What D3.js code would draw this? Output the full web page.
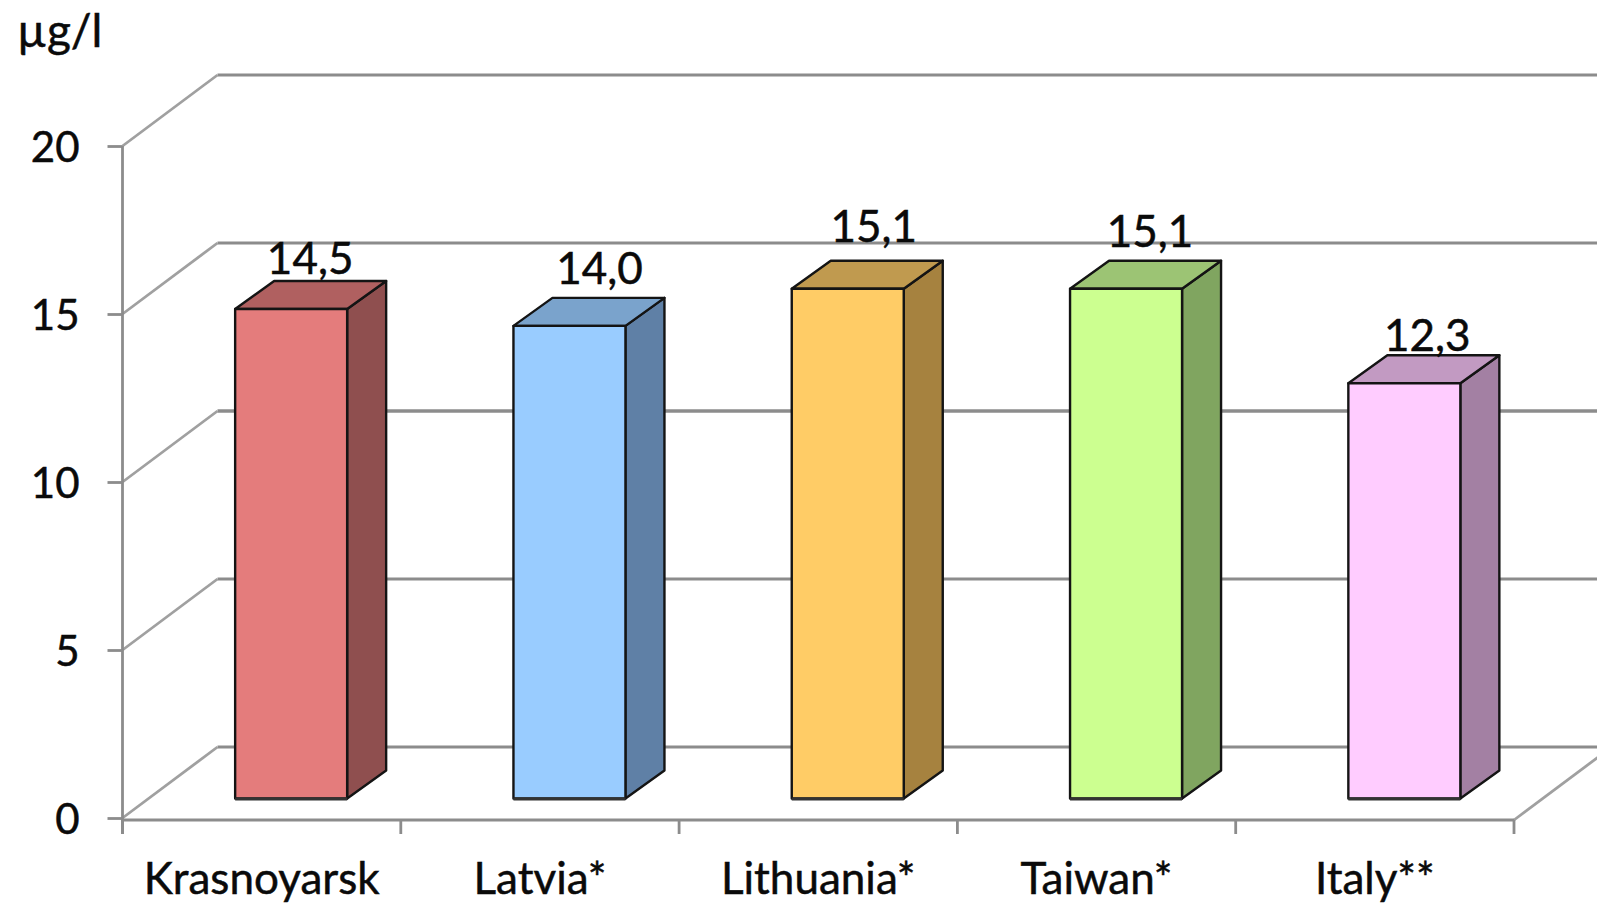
<!DOCTYPE html>
<html>
<head>
<meta charset="utf-8">
<script src="https://cdn.jsdelivr.net/npm/d3@7"></script>
<style>
html,body{margin:0;padding:0;background:#fff;overflow:hidden}
svg{display:block}
text{font-family:Lato,"Open Sans",sans-serif;fill:#0a0a0a;stroke:#0a0a0a;stroke-width:0.5px}
</style>
</head>
<body>
<svg id="chart" width="1597" height="903"></svg>
<script>
const categories = ["Krasnoyarsk", "Latvia*", "Lithuania*", "Taiwan*", "Italy**"];
const values = [14.5, 14.0, 15.1, 15.1, 12.3];
const valueLabels = ["14,5", "14,0", "15,1", "15,1", "12,3"];
const yTicks = [0, 5, 10, 15, 20];
const unitLabel = "µg/l";

const frontColors = ["#e47c7c", "#99ccff", "#ffcc66", "#ccff90", "#ffccff"];
const sideColors = ["#8f4f4f", "#5f80a6", "#a6823f", "#80a560", "#a380a3"];
const topColors = ["#b06060", "#7aa3cc", "#c09a4f", "#9cc474", "#c29ac2"];

// Hand-placed data label offsets relative to each bar's front top-centre
const labelNudgeX = [19, 30, 26, 24, 23];
const labelNudgeY = [-35, -42, -47, -42, -32];

const W = 1597, H = 903;
const GRID = "#8c8c8c";
const axisX = 122.5, axisRight = 1514;
const wallDx = 95, wallDy = -71;      // depth of the chart box
const barDx = 39, barDy = -28;        // depth of one bar
const barWidth = 112;
const barShift = 29.5;                // bars sit midway through the box depth

const svg = d3.select("#chart");
const y = d3.scaleLinear().domain([0, 20]).range([818, 146]);
// Front faces stand on a plane inside the box, so they get their own scale
const yBar = d3.scaleLinear().domain([0, 20]).range([798.5, 123.3]);
const x = d3.scaleBand().domain(categories).range([axisX, axisRight]);

// Back wall gridlines and the receding lines on the left wall
const grid = svg.append("g").attr("fill", "none").attr("stroke", GRID);
grid.selectAll("line.back").data(yTicks).join("line").attr("class", "back")
  .attr("x1", axisX + wallDx).attr("x2", W)
  .attr("y1", d => y(d) + wallDy).attr("y2", d => y(d) + wallDy)
  .attr("stroke-width", d => d === 10 ? 3.4 : 2.8);
grid.selectAll("line.side").data(yTicks).join("line").attr("class", "side")
  .attr("x1", axisX).attr("y1", d => y(d))
  .attr("x2", axisX + wallDx).attr("y2", d => y(d) + wallDy)
  .attr("stroke", "#a0a0a0").attr("stroke-width", 2.8);

// Floor edge running off to the right
grid.append("line")
  .attr("x1", axisRight).attr("y1", y(0) + 2)
  .attr("x2", axisRight + wallDx).attr("y2", y(0) + 2 + wallDy)
  .attr("stroke", "#a0a0a0").attr("stroke-width", 2.8);

// Axes
const yAxis = svg.append("g").attr("transform", `translate(${axisX},0)`)
  .call(d3.axisLeft(y).tickValues(yTicks).tickSize(15).tickPadding(28));
yAxis.select(".domain").attr("stroke", GRID).attr("stroke-width", 2.8)
  .attr("d", `M0,${y(20)}V${y(0) + 16}`);
yAxis.selectAll(".tick line").attr("stroke", GRID).attr("stroke-width", 2.8);
yAxis.selectAll("text").attr("font-size", 42).attr("dy", "0.36em")
  .style("font-family", "Lato").attr("fill", "#0a0a0a");

const xAxis = svg.append("g").attr("transform", `translate(0,${y(0) + 2})`)
  .call(d3.axisBottom(x).tickSize(0).tickPadding(43));
xAxis.select(".domain").attr("stroke", GRID).attr("stroke-width", 2.8)
  .attr("d", `M${axisX},0H${axisRight}`);
xAxis.selectAll("text").attr("font-size", 44).attr("fill", "#0a0a0a")
  .style("font-family", "Lato");
xAxis.selectAll("line.bound").data(d3.range(categories.length + 1)).join("line")
  .attr("class", "bound")
  .attr("x1", i => axisX + i * x.step()).attr("x2", i => axisX + i * x.step())
  .attr("y1", 0).attr("y2", 14)
  .attr("stroke", GRID).attr("stroke-width", 2.8);

// Bars: front, side and top faces
const rows = categories.map((c, i) => ({c, i, v: values[i]}));
const bars = svg.append("g").selectAll("g").data(rows).join("g")
  .attr("stroke", "#141414").attr("stroke-width", 2.4).attr("stroke-linejoin", "round");
const barLeft = d => x(d.c) + x.bandwidth() / 2 + barShift - barWidth / 2;
const barFoot = yBar(0);
const barTop = d => yBar(d.v);

bars.append("path").attr("fill", d => sideColors[d.i]).attr("d", d => {
  const r = barLeft(d) + barWidth;
  return `M${r},${barTop(d)}l${barDx},${barDy}V${barFoot + barDy}l${-barDx},${-barDy}Z`;
});
bars.append("path").attr("fill", d => topColors[d.i]).attr("d", d =>
  `M${barLeft(d)},${barTop(d)}l${barDx},${barDy}h${barWidth}l${-barDx},${-barDy}Z`);
bars.append("rect").attr("fill", d => frontColors[d.i])
  .attr("x", barLeft).attr("y", barTop).attr("width", barWidth)
  .attr("height", d => barFoot - barTop(d));
bars.append("line").attr("x1", barLeft).attr("x2", d => barLeft(d) + barWidth)
  .attr("y1", barFoot + 0.5).attr("y2", barFoot + 0.5).attr("stroke", "#333").attr("stroke-width", 3);

// Value labels above the bars
svg.append("g").selectAll("text").data(rows).join("text")
  .attr("text-anchor", "middle").attr("font-size", 44)
  .attr("x", d => barLeft(d) + barWidth / 2 + labelNudgeX[d.i])
  .attr("y", d => barTop(d) + labelNudgeY[d.i])
  .text(d => valueLabels[d.i]);

// Unit caption
svg.append("text").attr("x", 17).attr("y", 47).attr("font-size", 46).text(unitLabel);
</script>
</body>
</html>
